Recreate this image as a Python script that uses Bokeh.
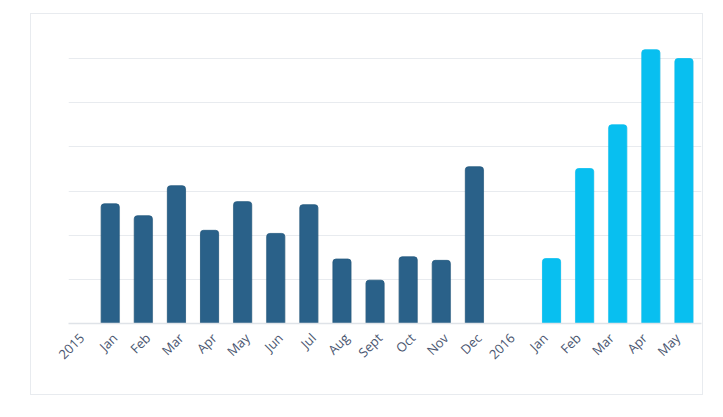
import math
from bokeh.plotting import figure
from bokeh.models import ColumnDataSource, FixedTicker, Range1d
from bokeh.transform import dodge
from bokeh.embed import file_html
from bokeh.resources import INLINE

# ---- data ----
tick_labels = ["2015", "Jan", "Feb", "Mar", "Apr", "May", "Jun", "Jul", "Aug",
               "Sept", "Oct", "Nov", "Dec", "2016", "Jan", "Feb", "Mar", "Apr", "May"]
months_2015 = ["Jan", "Feb", "Mar", "Apr", "May", "Jun", "Jul", "Aug", "Sept", "Oct", "Nov", "Dec"]
values_2015 = [2.71, 2.44, 3.12, 2.11, 2.76, 2.04, 2.69, 1.46, 0.98, 1.51, 1.43, 3.55]
months_2016 = ["Jan", "Feb", "Mar", "Apr", "May"]
values_2016 = [1.47, 3.51, 4.50, 6.20, 6.00]

i2015 = tick_labels.index("2015")
i2016 = tick_labels.index("2016")
x2015 = [i2015 + 1 + k for k in range(len(months_2015))]
x2016 = [i2016 + 1 + k for k in range(len(months_2016))]

src15 = ColumnDataSource(dict(x=x2015, top=values_2015, m=months_2015))
src16 = ColumnDataSource(dict(x=x2016, top=values_2016, m=months_2016))

p = figure(width=673, height=382, output_backend="svg", toolbar_location=None,
           x_range=Range1d(-0.26, 18.86), y_range=Range1d(0, 6.5),
           min_border_left=37, min_border_right=3, min_border_top=22, min_border_bottom=73,
           background_fill_color="white", border_fill_color="white")
p.margin = (13, 0, 0, 30)
p.styles = {"border": "1.5px solid #e8ebef"}
p.outline_line_color = None

BAR_W = 0.545
SHADOW_W = 0.60
DODGE16 = 0.33
LABEL_SHIFT = 0.14

# soft shadows
p.vbar(x="x", top="top", bottom=0, width=SHADOW_W, source=src15,
       fill_color="#000000", fill_alpha=0.07, line_color=None,
       border_radius=(4, 4, 0, 0))
p.vbar(x=dodge("x", DODGE16, range=p.x_range), top="top", bottom=0, width=SHADOW_W, source=src16,
       fill_color="#000000", fill_alpha=0.06, line_color=None,
       border_radius=(4, 4, 0, 0))

p.vbar(x="x", top="top", bottom=0, width=BAR_W, source=src15,
       fill_color="#2a6189", line_color="#245a80", line_width=0.8,
       border_radius=(3, 3, 0, 0))
p.vbar(x=dodge("x", DODGE16, range=p.x_range), top="top", bottom=0, width=BAR_W, source=src16,
       fill_color="#08bff0", line_color="#08bff0", line_width=0.8,
       border_radius=(3, 3, 0, 0))

ax = p.xaxis[0]
ticks = [i + LABEL_SHIFT for i in range(len(tick_labels))]
ax.ticker = FixedTicker(ticks=ticks)
ax.major_label_overrides = {t: lab for t, lab in zip(ticks, tick_labels)}
ax.major_label_orientation = math.pi / 4
ax.major_label_text_font = "Open Sans"
ax.major_label_text_font_size = "13px"
ax.major_label_text_color = "#4a5670"
ax.major_tick_line_color = None
ax.minor_tick_line_color = None
ax.axis_line_color = "#dfe3e8"
ax.axis_line_width = 1.5
ax.major_label_standoff = 6

p.yaxis.visible = False
p.xgrid.visible = False
p.ygrid.ticker = FixedTicker(ticks=[1, 2, 3, 4, 5, 6])
p.ygrid.grid_line_color = "#e8ebef"
p.ygrid.grid_line_width = 1.2

open("out.html", "w").write(file_html(p, INLINE))
